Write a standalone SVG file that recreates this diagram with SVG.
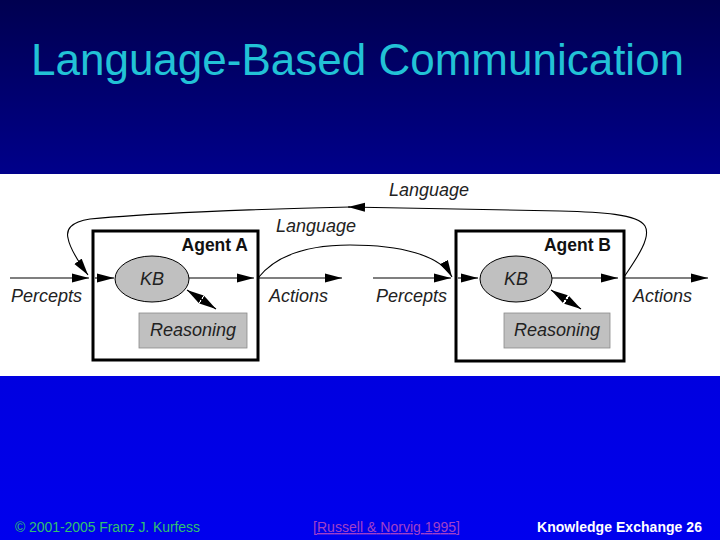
<svg xmlns="http://www.w3.org/2000/svg" width="720" height="540" viewBox="0 0 720 540">
<defs>
<linearGradient id="bg" x1="0" y1="0" x2="0" y2="1">
<stop offset="0" stop-color="#000050"/>
<stop offset="0.32" stop-color="#00008a"/>
<stop offset="0.70" stop-color="#0000e0"/>
<stop offset="1" stop-color="#0000ee"/>
</linearGradient>
<marker id="ah" markerUnits="userSpaceOnUse" markerWidth="18" markerHeight="10" refX="17" refY="5" orient="auto-start-reverse" viewBox="0 0 18 10">
<path d="M0,0.5 L17,5 L0,9.5 z" fill="#000"/>
</marker>
<style>
.ln{fill:none;stroke:#000;stroke-width:1.1}
.lab{font-family:"Liberation Sans",Arial,sans-serif;font-style:italic;font-size:18px;fill:#222}
.agent{font-family:"Liberation Sans",Arial,sans-serif;font-weight:bold;font-size:17.5px;fill:#111;text-anchor:end}
.box{fill:#fff;stroke:#000;stroke-width:3}
.kb{fill:#c0c0c0;stroke:#000;stroke-width:1}
.rs{fill:#c0c0c0;stroke:#8a8a8a;stroke-width:0.8}
</style>
</defs>
<rect x="0" y="0" width="720" height="540" fill="url(#bg)"/>
<rect x="0" y="174" width="720" height="202" fill="#fff"/>
<text x="31" y="75" font-family="Liberation Sans,Arial,sans-serif" font-size="44" fill="#22c2d6">Language-Based Communication</text>

<g id="agentA">
<rect class="box" x="93" y="231" width="165" height="129"/>
<text class="agent" x="248" y="251">Agent A</text>
</g>
<g id="kbA">
<ellipse class="kb" cx="152" cy="279" rx="37" ry="23"/>
<text class="lab" x="152" y="285" text-anchor="middle">KB</text>
</g>
<g id="reasoningA">
<rect class="rs" x="139" y="313" width="108" height="35"/>
<text class="lab" x="193" y="336" text-anchor="middle">Reasoning</text>
</g>
<g id="agentB">
<rect class="box" x="456" y="231" width="168" height="130"/>
<text class="agent" x="611" y="251">Agent B</text>
</g>
<g id="kbB">
<ellipse class="kb" cx="516" cy="279" rx="36" ry="23"/>
<text class="lab" x="516" y="285" text-anchor="middle">KB</text>
</g>
<g id="reasoningB">
<rect class="rs" x="504" y="313" width="106" height="35"/>
<text class="lab" x="557" y="336" text-anchor="middle">Reasoning</text>
</g>

<g id="labels">
<text class="lab" x="11" y="302">Percepts</text>
<text class="lab" x="269" y="302">Actions</text>
<text class="lab" x="376" y="302">Percepts</text>
<text class="lab" x="633" y="302">Actions</text>
<text class="lab" x="276" y="232" font-size="17">Language</text>
<text class="lab" x="389" y="196" font-size="17">Language</text>
</g>

<g id="connectors">
<line class="ln" x1="10" y1="278" x2="89" y2="278" marker-end="url(#ah)"/>
<line class="ln" x1="95" y1="278" x2="114" y2="278" marker-end="url(#ah)"/>
<line class="ln" x1="189" y1="278" x2="254" y2="278" marker-end="url(#ah)"/>
<line class="ln" x1="258" y1="278" x2="342" y2="278" marker-end="url(#ah)"/>
<line class="ln" x1="373" y1="278" x2="451" y2="278" marker-end="url(#ah)"/>
<line class="ln" x1="458" y1="278" x2="478" y2="278" marker-end="url(#ah)"/>
<line class="ln" x1="552" y1="278" x2="618" y2="278" marker-end="url(#ah)"/>
<line class="ln" x1="624" y1="278" x2="708" y2="278" marker-end="url(#ah)"/>
<line class="ln" x1="187" y1="290" x2="216" y2="309" marker-start="url(#ah)" marker-end="url(#ah)"/>
<line class="ln" x1="551" y1="290" x2="581" y2="309" marker-start="url(#ah)" marker-end="url(#ah)"/>
<path class="ln" d="M258,278 C280,250 320,245 350,245 C400,245 440,255 452,277" marker-end="url(#ah)"/>
<path class="ln" d="M624,277 C634,262 652,238 645,226 C638,214 600,212 560,211 L348,207" marker-end="url(#ah)"/>
<path class="ln" d="M350,207 C250,209 140,214 90,219 C70,222 66,230 68,238 C70,250 80,264 88,275" marker-end="url(#ah)"/>
</g>

<g id="footer">
<text x="15" y="532" font-family="Liberation Sans,Arial,sans-serif" font-size="14" fill="#30c070" textLength="185">© 2001-2005 Franz J. Kurfess</text>
<text x="313" y="532" font-family="Liberation Sans,Arial,sans-serif" font-size="14" fill="#a040c8" text-decoration="underline" textLength="147">[Russell &amp; Norvig 1995]</text>
<text x="537" y="532" font-family="Liberation Sans,Arial,sans-serif" font-size="14" font-weight="bold" fill="#fff" textLength="165">Knowledge Exchange 26</text>
</g>
</svg>
